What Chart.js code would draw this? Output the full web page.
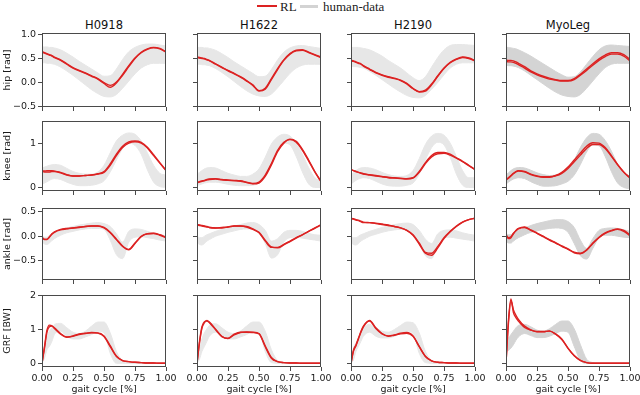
<!DOCTYPE html>
<html>
<head>
<meta charset="utf-8">
<script src="https://cdn.jsdelivr.net/npm/chart.js@4.4.1/dist/chart.umd.min.js"></script>
<style>
  body { margin: 0; width: 640px; height: 395px; position: relative; overflow: hidden; background: #fff; font-family: "DejaVu Sans", sans-serif; }
  canvas { position: absolute; }
  .coltitle { position: absolute; top: 18px; width: 124px; text-align: center; font-size: 11.5px; line-height: 14px; color: #111; }
  .legtext { position: absolute; top: 0; font-family: "Liberation Serif", serif; font-size: 13px; line-height: 13px; color: #222; }
  .legline { position: absolute; width: 20px; }
</style>
</head>
<body>
<div class="legline" style="left:257px;top:5px;height:2px;background:#dc2222"></div>
<div class="legtext" style="left:280px">RL</div>
<div class="legline" style="left:300px;top:5px;height:2.5px;background:#d3d3d3;width:18px"></div>
<div class="legtext" style="left:323px">human-data</div>
<script>
/////////////////////
//    Constants    //
/////////////////////
const GAIT = [0, 0.02, 0.04, 0.06, 0.08, 0.1, 0.15, 0.2, 0.25, 0.3, 0.35, 0.4, 0.45, 0.5, 0.55, 0.6, 0.65, 0.7, 0.75, 0.8, 0.85, 0.9, 0.95, 1.0];
const SUBJECTS = ['H0918', 'H1622', 'H2190', 'MyoLeg'];
const ROW_LABELS = ['hip [rad]', 'knee [rad]', 'ankle [rad]', 'GRF [BW]'];
const X_TICKS = [0, 0.25, 0.5, 0.75, 1.0];
const Y_TICKS = [[-0.5, 0, 0.5, 1.0], [0, 1], [-0.5, 0, 0.5], [0, 1, 2]];
const Y_DECIMALS = [1, 0, 1, 0];
const Y_RANGE = [[-0.51, 1.03], [-0.08, 1.5], [-0.9, 0.58], [-0.11, 2.02]];

// hip angle: two RL runs and the human band (upper / lower edge), one row per subject
const hipRL1 = [
  [0.63, 0.61, 0.59, 0.57, 0.55, 0.52, 0.46, 0.38, 0.30, 0.24, 0.19, 0.13, 0.07, -0.02, -0.10, -0.01, 0.15, 0.33, 0.50, 0.62, 0.69, 0.72, 0.70, 0.63],
  [0.52, 0.51, 0.50, 0.49, 0.47, 0.45, 0.38, 0.31, 0.24, 0.18, 0.11, 0.03, -0.06, -0.18, -0.14, 0.06, 0.27, 0.46, 0.59, 0.66, 0.67, 0.62, 0.57, 0.52],
  [0.45, 0.44, 0.42, 0.40, 0.38, 0.34, 0.27, 0.20, 0.15, 0.11, 0.08, 0.04, -0.03, -0.13, -0.20, -0.18, -0.05, 0.13, 0.29, 0.41, 0.48, 0.52, 0.50, 0.45],
  [0.44, 0.43, 0.43, 0.42, 0.40, 0.37, 0.30, 0.22, 0.16, 0.11, 0.07, 0.05, 0.03, 0.03, 0.06, 0.15, 0.25, 0.36, 0.46, 0.54, 0.59, 0.59, 0.55, 0.45]
];
const hipRL2 = [
  [0.64, 0.62, 0.60, 0.58, 0.56, 0.53, 0.47, 0.39, 0.31, 0.25, 0.20, 0.14, 0.08, 0.00, -0.06, 0.01, 0.17, 0.35, 0.51, 0.63, 0.70, 0.73, 0.71, 0.64],
  [0.53, 0.52, 0.51, 0.50, 0.48, 0.46, 0.39, 0.32, 0.25, 0.19, 0.12, 0.04, -0.05, -0.17, -0.12, 0.08, 0.29, 0.47, 0.60, 0.67, 0.68, 0.63, 0.58, 0.53],
  [0.46, 0.45, 0.43, 0.41, 0.39, 0.35, 0.28, 0.21, 0.16, 0.12, 0.09, 0.05, -0.02, -0.12, -0.19, -0.16, -0.03, 0.14, 0.30, 0.42, 0.49, 0.53, 0.51, 0.46],
  [0.47, 0.46, 0.46, 0.45, 0.43, 0.40, 0.33, 0.24, 0.18, 0.13, 0.09, 0.06, 0.04, 0.04, 0.08, 0.17, 0.28, 0.39, 0.49, 0.57, 0.62, 0.62, 0.58, 0.48]
];
const hipHi = [
  [0.74, 0.74, 0.74, 0.73, 0.73, 0.72, 0.68, 0.61, 0.53, 0.44, 0.36, 0.28, 0.20, 0.13, 0.14, 0.28, 0.48, 0.64, 0.73, 0.78, 0.80, 0.80, 0.78, 0.76],
  [0.73, 0.73, 0.73, 0.72, 0.72, 0.71, 0.67, 0.60, 0.52, 0.43, 0.35, 0.27, 0.19, 0.12, 0.13, 0.27, 0.47, 0.63, 0.72, 0.76, 0.77, 0.75, 0.73, 0.71],
  [0.73, 0.73, 0.73, 0.73, 0.72, 0.71, 0.68, 0.62, 0.55, 0.46, 0.38, 0.30, 0.20, 0.10, 0.04, 0.12, 0.32, 0.52, 0.68, 0.77, 0.79, 0.79, 0.78, 0.77],
  [0.73, 0.73, 0.72, 0.71, 0.70, 0.68, 0.62, 0.55, 0.47, 0.39, 0.31, 0.23, 0.16, 0.11, 0.12, 0.22, 0.38, 0.54, 0.68, 0.76, 0.78, 0.77, 0.76, 0.75]
];
const hipLo = [
  [0.41, 0.41, 0.40, 0.40, 0.39, 0.38, 0.32, 0.24, 0.15, 0.05, -0.05, -0.15, -0.23, -0.29, -0.30, -0.25, -0.12, 0.03, 0.18, 0.30, 0.37, 0.40, 0.40, 0.40],
  [0.38, 0.38, 0.37, 0.37, 0.36, 0.35, 0.29, 0.21, 0.12, 0.02, -0.08, -0.17, -0.24, -0.28, -0.29, -0.24, -0.11, 0.04, 0.19, 0.30, 0.36, 0.38, 0.38, 0.38],
  [0.34, 0.33, 0.33, 0.32, 0.31, 0.30, 0.23, 0.15, 0.06, -0.03, -0.12, -0.20, -0.27, -0.31, -0.32, -0.27, -0.14, 0.00, 0.16, 0.30, 0.38, 0.41, 0.41, 0.41],
  [0.36, 0.35, 0.35, 0.34, 0.33, 0.31, 0.24, 0.15, 0.06, -0.03, -0.12, -0.20, -0.26, -0.29, -0.30, -0.25, -0.12, 0.03, 0.18, 0.31, 0.38, 0.40, 0.40, 0.40]
];

// knee angle
const kneeRL1 = [
  [0.36, 0.35, 0.35, 0.35, 0.36, 0.36, 0.33, 0.28, 0.26, 0.26, 0.27, 0.28, 0.30, 0.34, 0.50, 0.72, 0.90, 1.00, 1.03, 1.00, 0.89, 0.72, 0.55, 0.38],
  [0.11, 0.12, 0.14, 0.15, 0.17, 0.18, 0.19, 0.17, 0.16, 0.15, 0.14, 0.11, 0.08, 0.10, 0.25, 0.51, 0.81, 1.00, 1.09, 1.04, 0.86, 0.62, 0.36, 0.14],
  [0.40, 0.38, 0.36, 0.34, 0.32, 0.30, 0.28, 0.26, 0.24, 0.22, 0.21, 0.20, 0.19, 0.21, 0.34, 0.54, 0.69, 0.76, 0.77, 0.73, 0.66, 0.58, 0.49, 0.40],
  [0.17, 0.21, 0.26, 0.31, 0.35, 0.37, 0.35, 0.29, 0.25, 0.23, 0.23, 0.26, 0.32, 0.43, 0.58, 0.73, 0.88, 0.97, 0.97, 0.88, 0.70, 0.51, 0.34, 0.21]
];
const kneeRL2 = [
  [0.37, 0.37, 0.38, 0.38, 0.38, 0.37, 0.34, 0.29, 0.26, 0.26, 0.27, 0.28, 0.31, 0.36, 0.53, 0.75, 0.93, 1.03, 1.05, 1.02, 0.91, 0.74, 0.56, 0.39],
  [0.12, 0.13, 0.15, 0.16, 0.18, 0.19, 0.20, 0.18, 0.17, 0.16, 0.15, 0.12, 0.09, 0.12, 0.28, 0.54, 0.84, 1.02, 1.08, 1.02, 0.84, 0.60, 0.35, 0.13],
  [0.40, 0.38, 0.36, 0.34, 0.33, 0.31, 0.29, 0.27, 0.25, 0.23, 0.22, 0.21, 0.20, 0.22, 0.36, 0.56, 0.72, 0.79, 0.79, 0.75, 0.67, 0.59, 0.50, 0.41],
  [0.18, 0.22, 0.27, 0.32, 0.36, 0.38, 0.36, 0.30, 0.26, 0.24, 0.24, 0.27, 0.34, 0.46, 0.62, 0.78, 0.93, 1.01, 1.00, 0.90, 0.72, 0.52, 0.35, 0.22]
];
const kneeHi = [
  [0.44, 0.46, 0.48, 0.50, 0.51, 0.52, 0.50, 0.43, 0.36, 0.32, 0.30, 0.30, 0.35, 0.50, 0.78, 1.05, 1.18, 1.23, 1.20, 1.05, 0.78, 0.50, 0.32, 0.28],
  [0.30, 0.34, 0.38, 0.42, 0.44, 0.45, 0.44, 0.38, 0.32, 0.28, 0.25, 0.25, 0.30, 0.42, 0.68, 0.98, 1.14, 1.20, 1.16, 1.00, 0.75, 0.45, 0.22, 0.16],
  [0.28, 0.33, 0.38, 0.42, 0.44, 0.45, 0.44, 0.40, 0.34, 0.29, 0.26, 0.25, 0.27, 0.38, 0.65, 0.97, 1.16, 1.22, 1.18, 1.00, 0.70, 0.38, 0.22, 0.22],
  [0.28, 0.33, 0.38, 0.42, 0.44, 0.45, 0.44, 0.39, 0.33, 0.29, 0.27, 0.28, 0.32, 0.42, 0.62, 0.90, 1.12, 1.22, 1.20, 1.06, 0.82, 0.52, 0.32, 0.26]
];
const kneeLo = [
  [0.08, 0.10, 0.13, 0.16, 0.19, 0.20, 0.18, 0.12, 0.07, 0.04, 0.04, 0.05, 0.08, 0.15, 0.35, 0.62, 0.88, 1.00, 0.95, 0.75, 0.40, 0.12, 0.02, 0.00],
  [0.05, 0.06, 0.08, 0.10, 0.11, 0.12, 0.12, 0.10, 0.07, 0.05, 0.04, 0.04, 0.05, 0.10, 0.27, 0.58, 0.88, 1.00, 0.96, 0.70, 0.35, 0.08, 0.00, 0.00],
  [0.08, 0.12, 0.16, 0.19, 0.21, 0.22, 0.20, 0.14, 0.08, 0.04, 0.03, 0.03, 0.05, 0.10, 0.30, 0.62, 0.90, 1.02, 0.96, 0.68, 0.30, 0.05, 0.00, 0.00],
  [0.08, 0.12, 0.16, 0.19, 0.21, 0.22, 0.20, 0.13, 0.07, 0.03, 0.03, 0.04, 0.08, 0.14, 0.28, 0.52, 0.80, 0.96, 0.94, 0.70, 0.36, 0.10, 0.00, -0.03]
];

// ankle angle
const ankleRL1 = [
  [-0.02, -0.06, -0.06, -0.01, 0.05, 0.09, 0.14, 0.16, 0.17, 0.19, 0.20, 0.21, 0.21, 0.17, 0.07, -0.07, -0.21, -0.28, -0.15, -0.01, 0.05, 0.055, 0.02, -0.03],
  [0.24, 0.23, 0.22, 0.21, 0.20, 0.18, 0.17, 0.17, 0.19, 0.21, 0.21, 0.19, 0.14, 0.07, -0.10, -0.23, -0.23, -0.17, -0.10, -0.03, 0.03, 0.10, 0.17, 0.24],
  [0.36, 0.35, 0.33, 0.32, 0.30, 0.28, 0.28, 0.26, 0.24, 0.22, 0.20, 0.17, 0.12, 0.03, -0.14, -0.33, -0.35, -0.21, -0.03, 0.10, 0.21, 0.29, 0.34, 0.37],
  [0.03, -0.03, -0.01, 0.06, 0.12, 0.16, 0.19, 0.13, 0.065, 0.00, -0.07, -0.13, -0.20, -0.26, -0.33, -0.35, -0.28, -0.14, -0.02, 0.07, 0.12, 0.15, 0.12, 0.03]
];
const ankleRL2 = [
  [-0.03, -0.07, -0.07, -0.02, 0.04, 0.08, 0.13, 0.15, 0.17, 0.18, 0.20, 0.21, 0.21, 0.18, 0.08, -0.06, -0.20, -0.27, -0.14, 0.00, 0.05, 0.06, 0.03, -0.02],
  [0.23, 0.22, 0.21, 0.20, 0.19, 0.18, 0.17, 0.18, 0.19, 0.21, 0.21, 0.20, 0.15, 0.08, -0.08, -0.22, -0.24, -0.18, -0.11, -0.04, 0.03, 0.10, 0.16, 0.23],
  [0.37, 0.36, 0.34, 0.33, 0.31, 0.29, 0.28, 0.27, 0.25, 0.23, 0.20, 0.17, 0.12, 0.02, -0.16, -0.35, -0.39, -0.24, -0.05, 0.09, 0.20, 0.29, 0.34, 0.37],
  [0.01, -0.05, -0.03, 0.05, 0.11, 0.15, 0.18, 0.12, 0.06, -0.01, -0.08, -0.14, -0.21, -0.27, -0.34, -0.36, -0.29, -0.15, -0.03, 0.06, 0.11, 0.14, 0.10, 0.01]
];
const ankleHi = [
  [0.00, -0.02, -0.02, 0.02, 0.05, 0.08, 0.13, 0.17, 0.20, 0.23, 0.25, 0.27, 0.28, 0.26, 0.20, 0.05, -0.12, 0.10, 0.15, 0.14, 0.10, 0.06, 0.03, 0.01],
  [0.00, -0.03, -0.03, 0.00, 0.03, 0.05, 0.10, 0.14, 0.18, 0.21, 0.24, 0.27, 0.28, 0.24, 0.12, -0.10, -0.05, 0.08, 0.12, 0.12, 0.10, 0.06, 0.03, 0.02],
  [0.00, -0.03, -0.03, 0.00, 0.03, 0.05, 0.10, 0.14, 0.18, 0.21, 0.24, 0.26, 0.27, 0.24, 0.12, -0.06, -0.15, 0.05, 0.12, 0.13, 0.11, 0.07, 0.04, 0.02],
  [0.06, 0.03, 0.03, 0.06, 0.09, 0.12, 0.17, 0.22, 0.26, 0.29, 0.32, 0.34, 0.34, 0.30, 0.18, -0.08, -0.25, -0.05, 0.12, 0.16, 0.17, 0.16, 0.13, 0.10]
];
const ankleLo = [
  [-0.12, -0.16, -0.17, -0.14, -0.09, -0.05, 0.02, 0.07, 0.10, 0.13, 0.15, 0.16, 0.16, 0.14, -0.08, -0.38, -0.46, -0.12, -0.02, -0.01, -0.03, -0.05, -0.08, -0.10],
  [-0.13, -0.17, -0.18, -0.15, -0.10, -0.07, 0.00, 0.04, 0.08, 0.11, 0.14, 0.15, 0.15, 0.08, -0.15, -0.45, -0.38, -0.12, -0.03, -0.02, -0.04, -0.06, -0.08, -0.10],
  [-0.13, -0.17, -0.18, -0.15, -0.10, -0.07, 0.00, 0.04, 0.08, 0.11, 0.13, 0.14, 0.13, 0.05, -0.15, -0.40, -0.46, -0.15, -0.03, -0.02, -0.04, -0.06, -0.08, -0.10],
  [-0.10, -0.14, -0.14, -0.10, -0.06, -0.03, 0.03, 0.08, 0.11, 0.14, 0.16, 0.17, 0.16, 0.08, -0.15, -0.40, -0.47, -0.25, -0.03, 0.02, 0.02, 0.00, -0.02, -0.03]
];

// ground reaction force
const grfRL1 = [
  [0.00, 0.49, 0.98, 1.13, 1.11, 1.03, 0.86, 0.77, 0.81, 0.87, 0.89, 0.91, 0.89, 0.79, 0.49, 0.20, 0.08, 0.05, 0.03, 0.02, 0.01, 0.01, 0.00, 0.00],
  [0.00, 0.64, 1.08, 1.23, 1.25, 1.20, 0.99, 0.79, 0.74, 0.86, 0.92, 0.92, 0.91, 0.87, 0.49, 0.15, 0.05, 0.02, 0.01, 0.01, 0.00, 0.00, 0.00, 0.00],
  [0.00, 0.39, 0.54, 0.74, 0.94, 1.10, 1.25, 1.03, 0.87, 0.81, 0.84, 0.89, 0.91, 0.81, 0.49, 0.20, 0.07, 0.03, 0.02, 0.01, 0.01, 0.00, 0.00, 0.00],
  [0.00, 1.28, 1.90, 1.50, 1.35, 1.25, 1.06, 0.98, 0.94, 0.94, 0.95, 0.87, 0.72, 0.44, 0.22, 0.08, 0.02, 0.00, 0.00, 0.00, 0.00, 0.00, 0.00, 0.00]
];
const grfRL2 = [
  [0.00, 0.45, 0.92, 1.08, 1.10, 1.05, 0.88, 0.78, 0.80, 0.85, 0.88, 0.90, 0.90, 0.81, 0.52, 0.22, 0.08, 0.05, 0.03, 0.02, 0.01, 0.01, 0.00, 0.00],
  [0.00, 0.60, 1.04, 1.20, 1.27, 1.22, 1.01, 0.80, 0.73, 0.84, 0.91, 0.93, 0.92, 0.88, 0.52, 0.17, 0.05, 0.02, 0.01, 0.01, 0.00, 0.00, 0.00, 0.00],
  [0.00, 0.36, 0.52, 0.72, 0.92, 1.08, 1.27, 1.05, 0.88, 0.80, 0.83, 0.87, 0.89, 0.80, 0.50, 0.21, 0.07, 0.03, 0.02, 0.01, 0.01, 0.00, 0.00, 0.00],
  [0.00, 1.20, 1.85, 1.58, 1.42, 1.30, 1.10, 0.99, 0.93, 0.93, 0.96, 0.86, 0.70, 0.45, 0.23, 0.09, 0.02, 0.00, 0.00, 0.00, 0.00, 0.00, 0.00, 0.00]
];
const grfHi = [
  [0.05, 0.45, 0.80, 0.95, 1.05, 1.15, 1.18, 1.05, 0.92, 0.88, 0.95, 1.10, 1.22, 1.22, 0.90, 0.35, 0.08, 0.02, 0.00, 0.00, 0.00, 0.00, 0.00, 0.00],
  [0.05, 0.40, 0.72, 0.90, 1.02, 1.12, 1.17, 1.05, 0.92, 0.88, 0.95, 1.10, 1.22, 1.22, 0.95, 0.40, 0.08, 0.02, 0.00, 0.00, 0.00, 0.00, 0.00, 0.00],
  [0.05, 0.45, 0.60, 0.75, 0.90, 1.05, 1.15, 1.05, 0.95, 0.92, 1.00, 1.12, 1.22, 1.20, 0.90, 0.35, 0.08, 0.02, 0.00, 0.00, 0.00, 0.00, 0.00, 0.00],
  [0.70, 0.74, 0.85, 0.95, 1.05, 1.12, 1.15, 1.08, 0.98, 0.95, 1.02, 1.15, 1.25, 1.25, 1.02, 0.55, 0.12, 0.02, 0.00, 0.00, 0.00, 0.00, 0.00, 0.00]
];
const grfLo = [
  [0.00, 0.15, 0.40, 0.50, 0.65, 0.85, 0.95, 0.80, 0.72, 0.72, 0.78, 0.85, 0.95, 0.90, 0.30, 0.00, 0.00, 0.00, 0.00, 0.00, 0.00, 0.00, 0.00, 0.00],
  [0.00, 0.12, 0.35, 0.50, 0.65, 0.80, 0.92, 0.78, 0.72, 0.72, 0.78, 0.85, 0.95, 0.92, 0.35, 0.02, 0.00, 0.00, 0.00, 0.00, 0.00, 0.00, 0.00, 0.00],
  [0.00, 0.10, 0.35, 0.50, 0.65, 0.80, 0.92, 0.80, 0.75, 0.75, 0.80, 0.88, 0.95, 0.88, 0.30, 0.02, 0.00, 0.00, 0.00, 0.00, 0.00, 0.00, 0.00, 0.00],
  [0.35, 0.38, 0.45, 0.55, 0.68, 0.78, 0.88, 0.82, 0.76, 0.76, 0.80, 0.88, 0.95, 0.92, 0.50, 0.08, 0.00, 0.00, 0.00, 0.00, 0.00, 0.00, 0.00, 0.00]
];

const RL_RUNS = [[hipRL1, hipRL2], [kneeRL1, kneeRL2], [ankleRL1, ankleRL2], [grfRL1, grfRL2]];
const BAND_HI = [hipHi, kneeHi, ankleHi, grfHi];
const BAND_LO = [hipLo, kneeLo, ankleLo, grfLo];

//////////////////
//    Layout    //
//////////////////
const COL_LEFT = [42, 197, 351, 506];
const BOX_W = 124;
const ROW_TOP = [33, 121, 208, 295];
const ROW_BOTTOM = [107, 191, 280, 367];
const PAD_T = 10;   // room for overhanging tick labels, keeps chartArea fixed
const PAD_R = 16;
const RED = '#dc2222';
const BAND_COLORS = ['#e7e7e7', '#e7e7e7', '#e7e7e7', '#d4d4d4'];
const AXIS_COLOR = '#4a4a4a';
const TEXT_COLOR = '#1a1a1a';
const FONT = { family: 'DejaVu Sans', size: 9.5 };

// full box around each panel (matplotlib spines)
const framePlugin = {
  id: 'frame',
  afterDraw(chart) {
    const { ctx, chartArea: a } = chart;
    ctx.save();
    ctx.strokeStyle = AXIS_COLOR;
    ctx.lineWidth = 1;
    ctx.strokeRect(Math.round(a.left) + 0.5, Math.round(a.top) + 0.5,
      Math.round(a.right - a.left) - 1, Math.round(a.bottom - a.top) - 1);
    ctx.restore();
  }
};

function points(values) {
  return GAIT.map((x, i) => ({ x, y: values[i] }));
}

function fmtY(row, v) {
  const s = Math.abs(v).toFixed(Y_DECIMALS[row]);
  return v < 0 ? '\u2212' + s : s;
}

function makePanel(r, c) {
  const firstCol = c === 0;
  const lastRow = r === 3;
  const yW = firstCol ? 42 : 16;
  const xH = lastRow ? 395 - ROW_BOTTOM[r] : 8;
  const boxH = ROW_BOTTOM[r] - ROW_TOP[r];
  const w = yW + BOX_W + PAD_R;
  const h = PAD_T + boxH + xH;

  const canvas = document.createElement('canvas');
  canvas.width = w;
  canvas.height = h;
  canvas.style.left = `${COL_LEFT[c] - yW}px`;
  canvas.style.top = `${ROW_TOP[r] - PAD_T}px`;
  canvas.style.width = `${w}px`;
  canvas.style.height = `${h}px`;
  document.body.appendChild(canvas);

  const band = BAND_COLORS[c];
  const datasets = [];
  for (const run of RL_RUNS[r]) {
    datasets.push({
      data: points(run[c]),
      borderColor: RED,
      borderWidth: 1.4,
      fill: false,
      order: 0
    });
  }
  datasets.push({
    data: points(BAND_HI[r][c]),
    borderColor: band,
    borderWidth: 1,
    fill: false,
    order: 1
  });
  datasets.push({
    data: points(BAND_LO[r][c]),
    borderColor: band,
    borderWidth: 1,
    backgroundColor: band,
    fill: '-1',
    order: 1
  });

  const tickGrid = {
    drawOnChartArea: false,
    drawTicks: true,
    tickLength: 4,
    tickColor: AXIS_COLOR,
    tickWidth: 1
  };

  new Chart(canvas, {
    type: 'line',
    data: { datasets },
    options: {
      responsive: false,
      animation: false,
      devicePixelRatio: 1,
      layout: { padding: { top: PAD_T, right: PAD_R, left: 0, bottom: 0 } },
      elements: {
        point: { radius: 0 },
        line: { cubicInterpolationMode: 'monotone' }
      },
      plugins: {
        legend: { display: false },
        tooltip: { enabled: false }
      },
      scales: {
        x: {
          type: 'linear',
          min: 0,
          max: 1,
          afterBuildTicks: (s) => { s.ticks = X_TICKS.map((v) => ({ value: v })); },
          afterFit: (s) => { s.height = xH; },
          grid: tickGrid,
          border: { display: false },
          ticks: {
            display: lastRow,
            autoSkip: false,
            maxRotation: 0,
            padding: 2,
            color: TEXT_COLOR,
            font: FONT,
            callback: (v) => Number(v).toFixed(2)
          },
          title: {
            display: lastRow,
            text: 'gait cycle [%]',
            color: TEXT_COLOR,
            font: FONT,
            padding: { top: 0, bottom: 0 }
          }
        },
        y: {
          type: 'linear',
          min: Y_RANGE[r][0],
          max: Y_RANGE[r][1],
          afterBuildTicks: (s) => { s.ticks = Y_TICKS[r].map((v) => ({ value: v })); },
          afterFit: (s) => { s.width = yW; },
          grid: tickGrid,
          border: { display: false },
          ticks: {
            display: firstCol,
            autoSkip: false,
            padding: 2,
            color: TEXT_COLOR,
            font: FONT,
            callback: (v) => fmtY(r, Number(v))
          },
          title: {
            display: firstCol,
            text: ROW_LABELS[r],
            color: TEXT_COLOR,
            font: FONT,
            padding: { top: 2, bottom: 0 }
          }
        }
      }
    },
    plugins: [framePlugin]
  });
}

///////////////////////
//    Main Script    //
///////////////////////
SUBJECTS.forEach((name, c) => {
  const title = document.createElement('div');
  title.className = 'coltitle';
  title.style.left = `${COL_LEFT[c]}px`;
  title.textContent = name;
  document.body.appendChild(title);
});

for (let r = 0; r < 4; r++) {
  for (let c = 0; c < 4; c++) {
    makePanel(r, c);
  }
}
</script>
</body>
</html>
